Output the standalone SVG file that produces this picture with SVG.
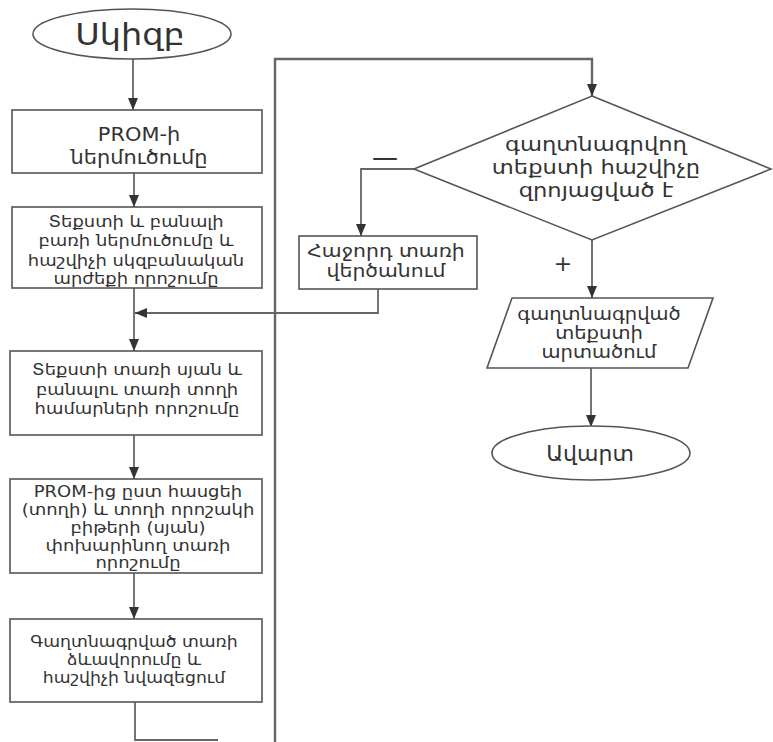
<svg xmlns="http://www.w3.org/2000/svg" width="773" height="742" viewBox="0 0 773 742">
<defs>
<marker id="ah" markerWidth="12" markerHeight="10" refX="12" refY="5" orient="auto" markerUnits="userSpaceOnUse">
<path d="M0,0 L12,5 L0,10 Z" fill="#333"/>
</marker>
<style>
.s{fill:#fff;stroke:#555;stroke-width:1.6}
.c{fill:none;stroke:#666;stroke-width:1.8}
.t{font-family:"DejaVu Sans",sans-serif;fill:#333;text-anchor:middle}
</style>
</defs>
<rect width="773" height="742" fill="#fff"/>
<g id="connectors">
<path class="c" d="M133,59 V110" marker-end="url(#ah)"/>
<path class="c" d="M134,173 V207" marker-end="url(#ah)"/>
<path class="c" d="M134,288 V351" marker-end="url(#ah)"/>
<path class="c" d="M134,435 V479" marker-end="url(#ah)"/>
<path class="c" d="M134,573 V619" marker-end="url(#ah)"/>
<path class="c" d="M135,702 V740 H218"/>
<path class="c" d="M275,742 V59 H592 V96" marker-end="url(#ah)" style="stroke-width:2.4"/>
<path class="c" d="M414,169 H361 V236" marker-end="url(#ah)"/>
<path class="c" d="M378,289 V313 H135" marker-end="url(#ah)"/>
<path class="c" d="M592,240 V298" marker-end="url(#ah)"/>
<path class="c" d="M591,368 V427" marker-end="url(#ah)"/>
<text class="t" x="385" y="166" style="font-size:26">—</text>
<text class="t" x="563" y="271" style="font-size:22">+</text>
</g>
<g id="start">
<ellipse class="s" cx="132" cy="34" rx="99" ry="25"/>
<text class="t" transform="translate(130,0) scale(1.08,1)" x="0" y="45" style="font-size:31">Սկիզբ</text>
</g>
<g id="n1">
<rect class="s" x="12" y="110" width="250" height="63"/>
<text class="t" transform="translate(139,0) scale(1.1,1)" style="font-size:19"><tspan x="0" y="141">PROM-ի</tspan><tspan x="0" y="164">ներմուծումը</tspan></text>
</g>
<g id="n2">
<rect class="s" x="12" y="207" width="250" height="81"/>
<text class="t" transform="translate(136,0) scale(1.12,1)" style="font-size:16"><tspan x="0" y="227">Տեքստի և բանալի</tspan><tspan x="0" y="246.5">բառի ներմուծումը և</tspan><tspan x="0" y="266">հաշվիչի սկզբանական</tspan><tspan x="0" y="284.5">արժեքի որոշումը</tspan></text>
</g>
<g id="n3">
<rect class="s" x="10" y="351" width="252" height="84"/>
<text class="t" transform="translate(137,0) scale(1.12,1)" style="font-size:16"><tspan x="0" y="375">Տեքստի տառի սյան և</tspan><tspan x="0" y="395">բանալու տառի տողի</tspan><tspan x="0" y="414">համարների որոշումը</tspan></text>
</g>
<g id="n4">
<rect class="s" x="10" y="479" width="252" height="94"/>
<text class="t" transform="translate(138,0) scale(1.2,1)" style="font-size:15"><tspan x="0" y="497">PROM-ից ըստ հասցեի</tspan><tspan x="0" y="515">(տողի) և տողի որոշակի</tspan><tspan x="0" y="533">բիթերի (սյան)</tspan><tspan x="0" y="551">փոխարինող տառի</tspan><tspan x="0" y="568.5">որոշումը</tspan></text>
</g>
<g id="n5">
<rect class="s" x="10" y="619" width="252" height="83"/>
<text class="t" transform="translate(134,0) scale(1.08,1)" style="font-size:16"><tspan x="0" y="647">Գաղտնագրված տառի</tspan><tspan x="0" y="665">ձևավորումը և</tspan><tspan x="0" y="683">հաշվիչի նվազեցում</tspan></text>
</g>
<g id="decision">
<polygon class="s" points="592,96 771,169 592,240 414,169"/>
<text class="t" transform="translate(596,0) scale(1.16,1)" style="font-size:19.5"><tspan x="0" y="151">գաղտնագրվող</tspan><tspan x="0" y="174">տեքստի հաշվիչը</tspan><tspan x="0" y="197">զրոյացված է</tspan></text>
</g>
<g id="next">
<rect class="s" x="299" y="236" width="178" height="53"/>
<text class="t" transform="translate(386,0) scale(1.2,1)" style="font-size:17"><tspan x="0" y="257">Հաջորդ տառի</tspan><tspan x="0" y="277">վերծանում</tspan></text>
</g>
<g id="output">
<polygon class="s" points="512,298 713,298 688,368 487,368"/>
<text class="t" transform="translate(599,0) scale(1.15,1)" style="font-size:17"><tspan x="0" y="320">գաղտնագրված</tspan><tspan x="0" y="339">տեքստի</tspan><tspan x="0" y="358">արտածում</tspan></text>
</g>
<g id="end">
<ellipse class="s" cx="591" cy="453" rx="99" ry="27"/>
<text class="t" x="590" y="461" style="font-size:22">Ավարտ</text>
</g>
</svg>
